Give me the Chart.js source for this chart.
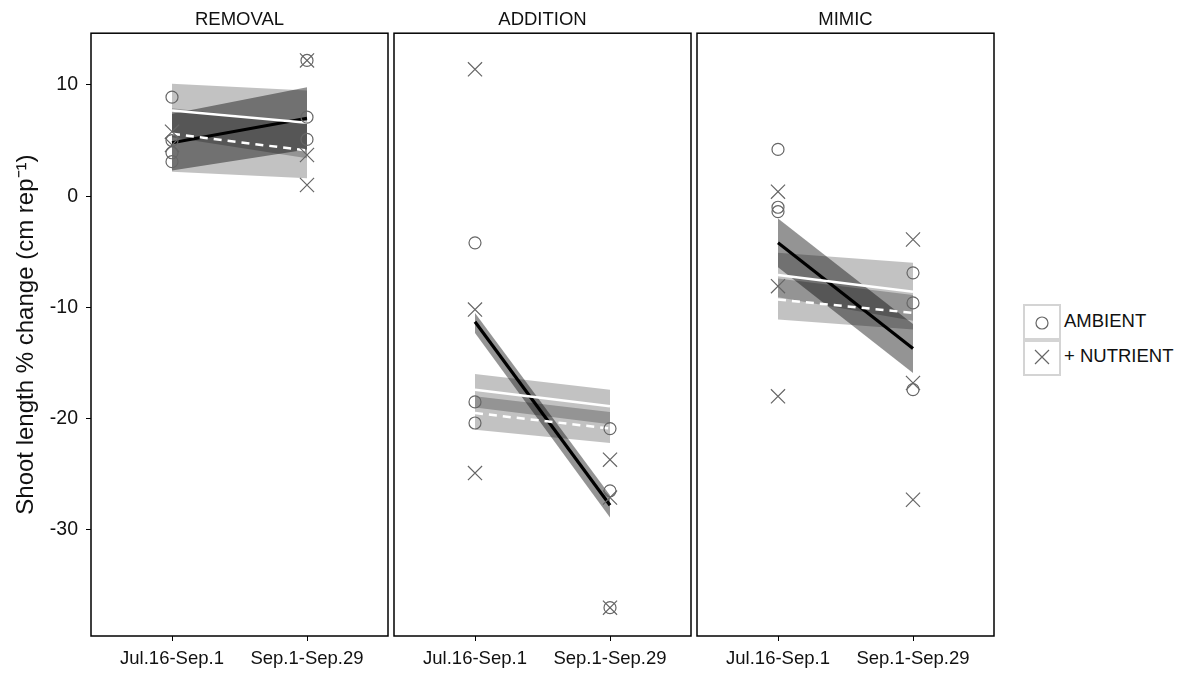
<!DOCTYPE html>
<html>
<head>
<meta charset="utf-8">
<script src="https://cdn.jsdelivr.net/npm/chart.js@4.4.1/dist/chart.umd.min.js"></script>
<style>
  body { margin: 0; background: #fff; font-family: "Liberation Sans", Arial, sans-serif; }
  #wrap { position: relative; width: 1189px; height: 673px; overflow: hidden; }
  canvas { position: absolute; top: 0; }
  .leg { position: absolute; left: 1023px; width: 34px; height: 34px; border: 2px solid #d4d4d4; }
  .legtxt { position: absolute; left: 1064px; font-size: 18.5px; color: #111; }
</style>
</head>
<body>
<div id="wrap">
  <canvas id="p1" style="left:0px" width="392" height="673"></canvas>
  <canvas id="p2" style="left:390px" width="305" height="673"></canvas>
  <canvas id="p3" style="left:693px" width="305" height="673"></canvas>
  <div class="leg" style="top:304px"><svg width="34" height="34"><circle cx="17" cy="17" r="6" fill="none" stroke="#666" stroke-width="1.2"/></svg></div>
  <div class="leg" style="top:338px"><svg width="34" height="34"><path d="M10 10 L24 24 M24 10 L10 24" stroke="#666" stroke-width="1.2"/></svg></div>
  <div class="legtxt" style="top:310px">AMBIENT</div>
  <div class="legtxt" style="top:345px">+ NUTRIENT</div>
</div>
<script>
// categories / labels
const periods = ['Jul.16-Sep.1', 'Sep.1-Sep.29'];
const panelNames = ['REMOVAL', 'ADDITION', 'MIMIC'];
const yTicks = [-30, -20, -10, 0, 10];

// raw points, [first period values, second period values]
const removalAmbient = [[8.9, 5.0, 3.9, 3.1], [12.2, 7.1, 5.1]];
const removalNutrient = [[5.8, 4.6], [12.2, 3.7, 1.0]];
const additionAmbient = [[-4.2, -18.5, -20.4], [-20.9, -26.5, -37.0]];
const additionNutrient = [[11.4, -10.2, -24.9], [-23.7, -27.1, -37.0]];
const mimicAmbient = [[4.2, -1.0, -1.4], [-6.9, -9.6, -17.4]];
const mimicNutrient = [[0.4, -8.1, -18.0], [-3.9, -16.8, -27.3]];

// fitted lines [start, end] and their bands (lower, upper)
const removalFitAmb = [7.7, 6.6], removalBandAmbLo = [5.3, 3.4], removalBandAmbHi = [10.1, 9.5];
const removalFitNut = [5.6, 4.1], removalBandNutLo = [2.2, 1.6], removalBandNutHi = [7.9, 6.6];
const removalFitAll = [4.8, 7.0], removalBandAllLo = [2.3, 4.2], removalBandAllHi = [7.4, 9.8];

const additionFitAmb = [-17.4, -18.9], additionBandAmbLo = [-19.0, -20.5], additionBandAmbHi = [-16.0, -17.4];
const additionFitNut = [-19.5, -20.9], additionBandNutLo = [-21.0, -22.2], additionBandNutHi = [-18.0, -19.4];
const additionFitAll = [-11.3, -27.8], additionBandAllLo = [-12.3, -28.9], additionBandAllHi = [-10.5, -26.9];

const mimicFitAmb = [-7.1, -8.6], mimicBandAmbLo = [-9.1, -11.2], mimicBandAmbHi = [-5.1, -6.0];
const mimicFitNut = [-9.3, -10.5], mimicBandNutLo = [-11.1, -12.0], mimicBandNutHi = [-7.4, -8.9];
const mimicFitAll = [-4.2, -13.7], mimicBandAllLo = [-6.4, -15.9], mimicBandAllHi = [-2.0, -11.5];

const panels = [
  { amb: removalAmbient, nut: removalNutrient,
    fits: [[removalFitAmb, removalBandAmbLo, removalBandAmbHi], [removalFitNut, removalBandNutLo, removalBandNutHi], [removalFitAll, removalBandAllLo, removalBandAllHi]] },
  { amb: additionAmbient, nut: additionNutrient,
    fits: [[additionFitAmb, additionBandAmbLo, additionBandAmbHi], [additionFitNut, additionBandNutLo, additionBandNutHi], [additionFitAll, additionBandAllLo, additionBandAllHi]] },
  { amb: mimicAmbient, nut: mimicNutrient,
    fits: [[mimicFitAmb, mimicBandAmbLo, mimicBandAmbHi], [mimicFitNut, mimicBandNutLo, mimicBandNutHi], [mimicFitAll, mimicBandAllLo, mimicBandAllHi]] }
];

const pts = arr => [...arr[0].map(y => ({ x: 1, y })), ...arr[1].map(y => ({ x: 2, y }))];
const seg = arr => [{ x: 1, y: arr[0] }, { x: 2, y: arr[1] }];

// panel frame
const framePlugin = {
  id: 'frame',
  afterDraw(chart) {
    const a = chart.chartArea, c = chart.ctx;
    c.save();
    c.strokeStyle = '#000';
    c.lineWidth = 1.5;
    c.strokeRect(a.left, a.top, a.right - a.left, a.bottom - a.top);
    c.restore();
  }
};

const lineStyles = [
  { color: '#fff', width: 2.5, dash: [] },
  { color: '#fff', width: 2.5, dash: [8, 6] },
  { color: '#000', width: 3.2, dash: [] }
];
const bandFills = ['rgba(0,0,0,0.24)', 'rgba(0,0,0,0.24)', 'rgba(0,0,0,0.42)'];
const font = { size: 18.5, family: 'Liberation Sans, Arial', weight: 'normal' };

panels.forEach((p, i) => {
  const datasets = [];
  // points on top
  datasets.push({ data: pts(p.amb), showLine: false, pointStyle: 'circle', pointRadius: 6,
    pointBorderColor: '#666', pointBackgroundColor: 'rgba(0,0,0,0)', pointBorderWidth: 1.2, order: 0 });
  datasets.push({ data: pts(p.nut), showLine: false, pointStyle: 'crossRot', pointRadius: 10,
    pointBorderColor: '#666', pointBorderWidth: 1.2, order: 0 });
  p.fits.forEach((f, k) => {
    const st = lineStyles[k];
    datasets.push({ data: seg(f[0]), borderColor: st.color, borderWidth: st.width, borderDash: st.dash,
      pointRadius: 0, fill: false, order: 1 });
  });
  p.fits.forEach((f, k) => {
    datasets.push({ data: seg(f[1]), borderWidth: 0, pointRadius: 0, fill: false, order: 2 });
    datasets.push({ data: seg(f[2]), borderWidth: 0, pointRadius: 0, order: 2,
      fill: '-1', backgroundColor: bandFills[k] });
  });

  const first = i === 0;
  new Chart(document.getElementById('p' + (i + 1)), {
    type: 'line',
    data: { datasets },
    options: {
      responsive: false,
      animation: false,
      layout: { autoPadding: false, padding: { left: first ? 0 : 4, right: 4, top: 0, bottom: 0 } },
      plugins: {
        legend: { display: false },
        tooltip: { enabled: false },
        title: { display: true, text: panelNames[i], fullSize: false, color: '#111',
          font: font, padding: { top: 9, bottom: 2 } }
      },
      scales: {
        x: {
          type: 'linear', min: 0.4, max: 2.6,
          afterBuildTicks: s => { s.ticks = [{ value: 1 }, { value: 2 }]; },
          afterFit: s => { s.height = 37; s.paddingLeft = 0; s.paddingRight = 0; },
          ticks: { callback: v => periods[v - 1], color: '#111', padding: 7, maxRotation: 0,
            autoSkip: false, font: font },
          grid: { drawOnChartArea: false, drawTicks: true, tickLength: 5, color: '#000' },
          border: { display: false }
        },
        y: {
          display: first,
          min: -39.55, max: 14.65,
          afterBuildTicks: s => { s.ticks = yTicks.map(v => ({ value: v })); },
          afterFit: s => { if (first) s.width = 91; s.paddingTop = 0; s.paddingBottom = 0; },
          ticks: { color: '#111', padding: 8, font: { size: 19.5, family: 'Liberation Sans, Arial' } },
          grid: { drawOnChartArea: false, drawTicks: true, tickLength: 5, color: '#000' },
          border: { display: false },
          title: { display: true, text: 'Shoot length % change (cm rep\u207B\u00B9)', color: '#111',
            font: { size: 24, family: 'Liberation Sans, Arial' }, padding: { top: 12 } }
        }
      }
    },
    plugins: [framePlugin]
  });
});
</script>
</body>
</html>
